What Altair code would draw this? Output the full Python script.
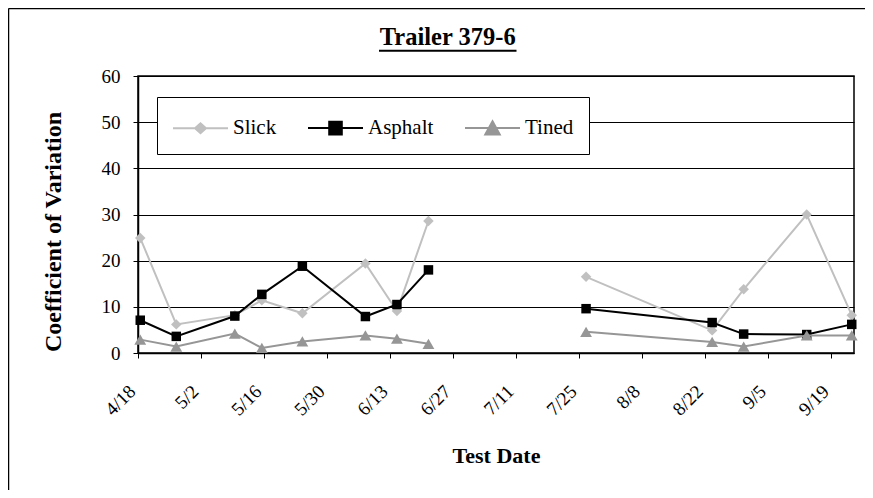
import altair as alt
import pandas as pd

YEAR = 2006
chart_title = "Trailer 379-6"
series_names = ["Slick", "Asphalt", "Tined"]
series_colors = ["#C0C0C0", "#000000", "#969696"]
series_shapes = ["diamond", "square", "triangle-up"]
series_sizes = [110, 90, 140]

# test dates (month-day); the 07-10 row is an empty (no test) gap
test_dates = ["04-18", "04-26", "05-09", "05-15", "05-24", "06-07", "06-14", "06-21",
              "07-10", "07-26", "08-23", "08-30", "09-13", "09-23"]
slick = [24.9, 6.2, 8.2, 11.4, 8.6, 19.4, 9.1, 28.6, None, 16.5, 4.9, 13.8, 30.0, 8.2]
asphalt = [7.1, 3.6, 8.0, 12.7, 18.8, 7.9, 10.5, 18.0, None, 9.6, 6.6, 4.1, 4.0, 6.2]
tined = [2.9, 1.4, 4.2, 1.1, 2.5, 3.8, 3.1, 2.0, None, 4.6, 2.4, 1.4, 3.8, 3.8]

tick_labels = ["4/18", "5/2", "5/16", "5/30", "6/13", "6/27", "7/11", "7/25",
               "8/8", "8/22", "9/5", "9/19"]
y_ticks = [0, 10, 20, 30, 40, 50, 60]

# legend symbols: line with marker (custom paths, unit = half nominal size)
legend_paths = [
    "M-1,0L2.793,0M0.518,0L0.897,-0.345L1.276,0L0.897,0.345Z",
    "M-1,0L2.793,0M0.463,-0.434L1.331,-0.434L1.331,0.434L0.463,0.434Z",
    "M-1,0L2.793,0M0.897,-0.46L1.397,0.46L0.397,0.46Z",
]

rows = []
for name, vals in zip(series_names, [slick, asphalt, tined]):
    for d, v in zip(test_dates, vals):
        rows.append({"date": pd.Timestamp(f"{YEAR}-{d}") + pd.Timedelta(hours=12),
                     "series": name, "cv": v})
df = pd.DataFrame(rows)


def dt(lbl):
    m, d = lbl.split("/")
    return alt.DateTime(year=YEAR, month=int(m), date=int(d))


FONT = "Times New Roman, Liberation Serif, DejaVu Serif, serif"

x_axis = alt.Axis(values=[dt(t) for t in tick_labels], format="%-m/%-d", labelAngle=-45,
                  labelAlign="right", labelBaseline="middle", labelPadding=30, labelOffset=-6,
                  labelFontSize=19, labelFlush=False, labelOverlap=False, tickSize=5, grid=False,
                  title="Test Date", titleFontSize=22, titleFontWeight="bold",
                  titleX=358, titleY=109, titleBaseline="alphabetic", titleAlign="center")
y_axis = alt.Axis(values=y_ticks, grid=True, tickSize=5, labelPadding=13, labelFontSize=19,
                  title="Coefficient of Variation", titleFontSize=24, titleFontWeight="bold",
                  titleX=-78, titleY=155.5, titleBaseline="alphabetic", titleAlign="center",
                  titleAngle=270)

x_enc = alt.X("date:T", scale=alt.Scale(domain=[dt("4/18"), dt("9/24")], nice=False), axis=x_axis)
y_enc = alt.Y("cv:Q", scale=alt.Scale(domain=[0, 60], nice=False), axis=y_axis)

base = alt.Chart(df)
layers = []
for name, col, shape, size in zip(series_names, series_colors, series_shapes, series_sizes):
    sub = base.transform_filter(alt.datum.series == name)
    layers.append(sub.mark_line(color=col, strokeWidth=2,
                                invalid="break-paths-filter-domains").encode(x=x_enc, y=y_enc))
    layers.append(sub.transform_filter("isValid(datum.cv)").mark_point(
        shape=shape, size=size, filled=True, color=col, opacity=1).encode(x=x_enc, y=y_enc))

leg = alt.Legend(orient="none", legendX=19, legendY=21, direction="horizontal", columns=3,
                 title=None, fillColor="white", strokeColor="black", padding=15,
                 labelFont=FONT, labelFontSize=21, labelColor="black", symbolSize=841,
                 symbolStrokeWidth=2, symbolOpacity=1, labelOffset=30, columnPadding=27)
color_scale = alt.Scale(domain=series_names, range=series_colors)

# invisible layer that only provides the legend (line + marker symbols)
legend_layer = base.transform_filter("isValid(datum.cv)").mark_point(
    filled=True, size=841, strokeWidth=2, opacity=0).encode(
    x=x_enc, y=y_enc,
    fill=alt.Fill("series:N", scale=color_scale, legend=leg),
    stroke=alt.Stroke("series:N", scale=color_scale, legend=leg),
    shape=alt.Shape("series:N", scale=alt.Scale(domain=series_names, range=legend_paths), legend=leg))

tdf = pd.DataFrame({"title": [chart_title]})
title_text = alt.Chart(tdf).mark_text(font=FONT, fontSize=24.5, fontWeight="bold", color="black",
                                      align="center", baseline="alphabetic").encode(
    text="title:N", x=alt.value(309.7), y=alt.value(-31))
underline = alt.Chart(tdf).mark_rule(strokeWidth=2, color="black").encode(
    x=alt.value(241), x2=alt.value(378.5), y=alt.value(-25.3))
border_left = alt.Chart(tdf).mark_rule(strokeWidth=1.5, color="black").encode(
    x=alt.value(-129.5), y=alt.value(-67.5), y2=alt.value(414))
border_top = alt.Chart(tdf).mark_rule(strokeWidth=1.5, color="black").encode(
    x=alt.value(-129.5), x2=alt.value(727), y=alt.value(-67.5))

chart = alt.layer(*layers, legend_layer, title_text, underline, border_left, border_top).properties(
    width=716, height=277, autosize="none",
    padding={"left": 130, "top": 68, "right": 11, "bottom": 137},
).configure_view(stroke="black", strokeWidth=1.5).configure_axis(
    labelFont=FONT, titleFont=FONT, labelColor="black", titleColor="black",
    domainColor="black", tickColor="black", gridColor="black", gridOpacity=1,
    gridWidth=1, tickWidth=1, domainWidth=1.5)

chart.save("out.html", embed_options={"renderer": "svg", "actions": False})
